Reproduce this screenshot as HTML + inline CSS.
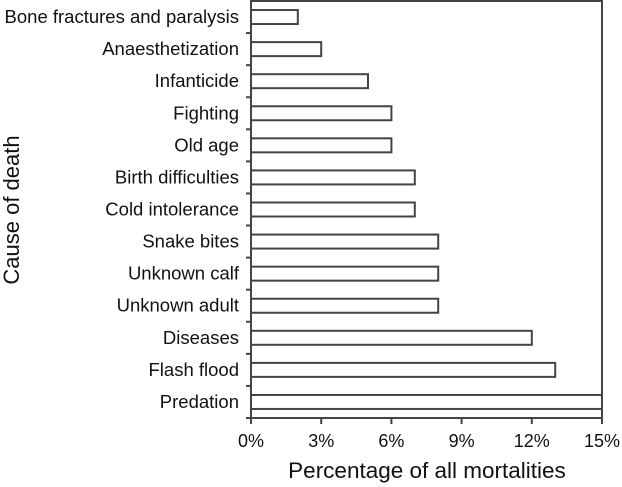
<!DOCTYPE html>
<html><head><meta charset="utf-8"><style>
body{margin:0;background:#fff;}
svg{display:block;font-family:"Liberation Sans",Arial,sans-serif;}
</style></head><body>
<svg id="chart" width="622" height="487"></svg>
<script>
const categories=["Bone fractures and paralysis","Anaesthetization","Infanticide","Fighting","Old age","Birth difficulties","Cold intolerance","Snake bites","Unknown calf","Unknown adult","Diseases","Flash flood","Predation"];
const values=[2,3,5,6,6,7,7,8,8,8,12,13,16];
const tickValues=[0,3,6,9,12,15];
const tickLabels=["0%","3%","6%","9%","12%","15%"];
const L=251,R=602,T=1,B=418,max=15;
const svg=document.getElementById('chart');
const NS='http://www.w3.org/2000/svg';
const xs=v=>L+(v/max)*(R-L);
const band=(B-T)/categories.length;
const ys=i=>T+i*band;
function mk(t,a){const e=document.createElementNS(NS,t);for(const k in a)e.setAttribute(k,a[k]);svg.appendChild(e);return e;}
const defs=mk('defs',{});
const cp=document.createElementNS(NS,'clipPath');cp.setAttribute('id','clip');
const cr=document.createElementNS(NS,'rect');cr.setAttribute('x',L);cr.setAttribute('y',T);cr.setAttribute('width',R-L);cr.setAttribute('height',B-T);
cp.appendChild(cr);defs.appendChild(cp);
categories.forEach((c,i)=>{
  const y=ys(i)+band/2;
  const r=mk('rect',{x:L,y:y-7,width:xs(values[i])-L,height:14,fill:'#fff',stroke:'#444','stroke-width':2,'clip-path':'url(#clip)'});
  
  
  const t=mk('text',{x:239,y:y+6,'text-anchor':'end','font-size':18.5,fill:'#111'});
  t.textContent=c;
  
  
  if(i>0){const tk=mk('line',{x1:L-5,x2:L,y1:ys(i),y2:ys(i),stroke:'#444','stroke-width':2});
  
  }
});
const tk0=mk('line',{x1:L-5,x2:L,y1:B,y2:B,stroke:'#444','stroke-width':2});


const frame=mk('rect',{x:L,y:T,width:R-L,height:B-T,fill:'none',stroke:'#444','stroke-width':2});


tickValues.forEach((v,i)=>{
  const x=xs(v);
  const l=mk('line',{x1:x,x2:x,y1:B,y2:B+6,stroke:'#444','stroke-width':2});
  
  
  const t=mk('text',{x:x,y:447,'text-anchor':'middle','font-size':18,fill:'#111'});
  t.textContent=tickLabels[i];
  
  
});
const xt=mk('text',{x:427,y:478,'text-anchor':'middle','font-size':22.5,fill:'#111'});
xt.textContent='Percentage of all mortalities';


const yt=mk('text',{x:0,y:0,'text-anchor':'middle','font-size':22,fill:'#111',transform:'translate(19,210) rotate(-90)'});
yt.textContent='Cause of death';


</script>
</body></html>
